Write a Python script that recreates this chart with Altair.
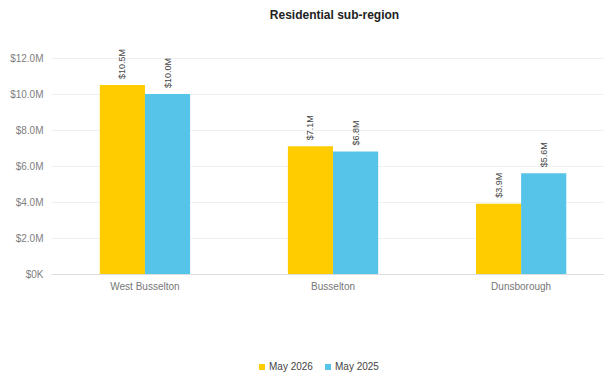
import altair as alt
import pandas as pd

regions = ["West Busselton", "Busselton", "Dunsborough"]
series = ["May 2026", "May 2025"]
may_2026 = [10.5e6, 7.1e6, 3.9e6]
may_2025 = [10.0e6, 6.8e6, 5.6e6]
colors = ["#FFCC00", "#56C3E8"]
y_ticks = [0, 2e6, 4e6, 6e6, 8e6, 10e6, 12e6]

rows = []
for i, r in enumerate(regions):
    rows.append({"region": r, "series": series[0], "value": may_2026[i]})
    rows.append({"region": r, "series": series[1], "value": may_2025[i]})
df = pd.DataFrame(rows)

FONT = "Liberation Sans"

y_enc = alt.Y(
    "value:Q",
    scale=alt.Scale(domain=[0, 12e6], nice=False),
    axis=alt.Axis(
        values=y_ticks, title=None, domain=False, ticks=False,
        gridColor="#f0f0f0", labelColor="#808080", labelFontSize=10,
        labelFont=FONT, labelPadding=8, labelOverlap=False,
        labelExpr="datum.value == 0 ? '$0K' : '$' + format(datum.value / 1000000, '.1f') + 'M'",
    ),
)

base = alt.Chart(df).transform_calculate(
    label="'$' + format(datum.value / 1000000, '.1f') + 'M'"
).encode(
    x=alt.X(
        "region:N",
        sort=regions,
        scale=alt.Scale(paddingInner=0.52, paddingOuter=0.23, align=0.564),
        axis=alt.Axis(
            title=None, labelAngle=0, labelColor="#777777", labelFontSize=10,
            labelFont=FONT, ticks=False, domainColor="#dddddd", labelPadding=7,
        ),
    ),
    xOffset=alt.XOffset("series:N", sort=series,
                        scale=alt.Scale(paddingInner=0, paddingOuter=0)),
    y=y_enc,
)

bars = base.mark_bar().encode(
    color=alt.Color(
        "series:N", sort=series,
        scale=alt.Scale(domain=series, range=colors),
        legend=alt.Legend(
            title=None, orient="none", legendX=206, legendY=304,
            direction="horizontal", symbolType="square", symbolSize=36,
            symbolStrokeWidth=0, labelFontSize=10, labelFont=FONT,
            labelColor="#444444", labelOffset=2, columnPadding=10,
        ),
    ),
)

labels = base.mark_text(
    angle=270, align="left", baseline="middle", dx=6, fontSize=9,
    font=FONT, color="#444444",
).encode(
    text="label:N",
)

chart = alt.layer(bars, labels).properties(
    width=553,
    height=216,
    title=alt.TitleParams(
        "Residential sub-region", fontSize=12, fontWeight="bold", font=FONT,
        color="#222222", anchor="middle", baseline="alphabetic", offset=18, dx=7,
    ),
    autosize=alt.AutoSizeParams(type="none"),
    padding={"left": 43, "top": 50, "right": 0, "bottom": 99},
).configure_view(stroke=None).configure_axisY(labelOverlap=False, tickCount=7)

chart.save("out.html", embed_options={"renderer": "svg", "actions": False})
